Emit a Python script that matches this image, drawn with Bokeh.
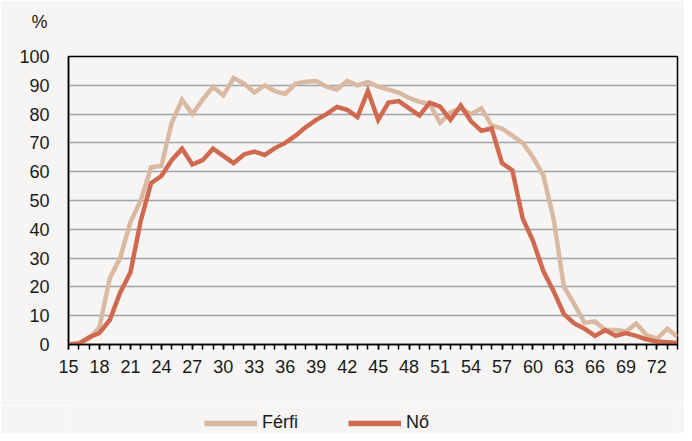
from bokeh.plotting import figure
from bokeh.layouts import column
from bokeh.models import FixedTicker, Range1d, Legend, LegendItem, Title, ColumnDataSource
from bokeh.embed import file_html
from bokeh.resources import INLINE

ages = list(range(15, 75))
ferfi = [0, 0.5, 2, 6, 23, 30, 42.5, 50, 61.5, 62, 77, 85, 80, 85, 89.5, 86.5, 92.5, 90.6, 87.5, 90,
         88, 87, 90.6, 91.2, 91.5, 89.5, 88.5, 91.5, 90, 91.2, 89.5, 88.5, 87.5, 85.6, 84.3, 83.5, 77, 80.6, 82, 80,
         82, 76, 75, 72.5, 70, 65, 58.7, 43.6, 20, 14, 7.5, 8, 5, 5, 4.5, 7.3, 3.3, 2, 5.5, 2.7]
no = [0, 0.3, 2.5, 4, 8.5, 18, 25, 43, 56, 58.5, 64, 68, 62.5, 64, 68, 65.5, 63, 66, 67, 65.8,
      68.2, 70, 72.5, 75.5, 78, 80, 82.5, 81.5, 79, 88, 78, 84, 84.5, 82, 79.5, 84, 82.6, 78, 83, 77.5,
      74.2, 75, 63, 60.5, 43.8, 36, 25.5, 18.5, 10.5, 7.3, 5.5, 3, 5, 3, 4, 3, 1.8, 1, 0.8, 0.5]
series_names = ["Férfi", "Nő"]
x_ticks = list(range(15, 75, 3))
y_ticks = list(range(0, 101, 10))

FONT = "Liberation Sans"
FS = "18px"
BG = "#f6f5f3"
TAN = "#d9b9a1"
RED = "#cf6a50"
TXT = "#1a1a1a"
LW = 4.5

p = figure(width=684, height=405, output_backend="svg", toolbar_location=None,
           x_range=Range1d(15, 74), y_range=Range1d(0, 100),
           min_border_left=68, min_border_right=7, min_border_top=56, min_border_bottom=61)
p.background_fill_color = BG
p.border_fill_color = BG
p.outline_line_color = "black"
p.outline_line_width = 1.5

src = ColumnDataSource(dict(age=ages, ferfi=ferfi, no=no))
p.line("age", "ferfi", source=src, line_color=TAN, line_width=LW, line_join="miter")
p.line("age", "no", source=src, line_color=RED, line_width=LW, line_join="miter")

p.xgrid.visible = False
p.ygrid.grid_line_color = "#a0a4a9"
p.ygrid.grid_line_width = 1.5
p.ygrid.ticker = FixedTicker(ticks=y_ticks)

xa = p.xaxis[0]
xa.ticker = FixedTicker(ticks=x_ticks, minor_ticks=ages)
xa.major_tick_in = 0
xa.major_tick_out = 5
xa.minor_tick_in = 0
xa.minor_tick_out = 5
xa.major_tick_line_width = 1.5
xa.minor_tick_line_width = 1.5
xa.major_tick_line_color = "black"
xa.minor_tick_line_color = "black"
xa.axis_line_color = "black"
xa.axis_line_width = 1.5
xa.major_label_standoff = 10
xa.major_label_text_font = FONT
xa.major_label_text_font_size = FS
xa.major_label_text_color = TXT

ya = p.yaxis[0]
ya.ticker = FixedTicker(ticks=y_ticks)
ya.major_tick_in = 0
ya.major_tick_out = 0
ya.minor_tick_in = 0
ya.minor_tick_out = 0
ya.axis_line_color = "black"
ya.axis_line_width = 1.5
ya.major_label_standoff = 19
ya.major_label_text_font = FONT
ya.major_label_text_font_size = FS
ya.major_label_text_color = TXT

title = Title(text="%\n ", align="left", offset=-37, standoff=10, text_line_height=1.0,
              text_font=FONT, text_font_size=FS, text_font_style="normal", text_color=TXT)
p.add_layout(title, "above")

# legend strip below the chart
q = figure(width=684, height=28, output_backend="svg", toolbar_location=None,
           x_range=Range1d(0, 1), y_range=Range1d(0, 1),
           min_border_left=0, min_border_right=0, min_border_top=0, min_border_bottom=0)
q.axis.visible = False
q.grid.visible = False
q.outline_line_color = None
q.background_fill_color = BG
q.border_fill_color = BG
off = ColumnDataSource(dict(x=[-5, -4], y=[-5, -5]))
l1 = q.line("x", "y", source=off, line_color=TAN, line_width=LW + 1)
l2 = q.line("x", "y", source=off, line_color=RED, line_width=LW + 1)
legend = Legend(items=[LegendItem(label=series_names[0], renderers=[l1]),
                       LegendItem(label=series_names[1], renderers=[l2])],
                orientation="horizontal", location=(136, 0),
                background_fill_alpha=0, border_line_alpha=0,
                label_text_font=FONT, label_text_font_size=FS, label_text_color=TXT,
                glyph_width=53, glyph_height=20, label_height=20, label_standoff=5, spacing=50,
                padding=0, margin=0)
q.add_layout(legend, "center")

layout = column(p, q, spacing=0)
open("out.html", "w").write(file_html(layout, INLINE))
